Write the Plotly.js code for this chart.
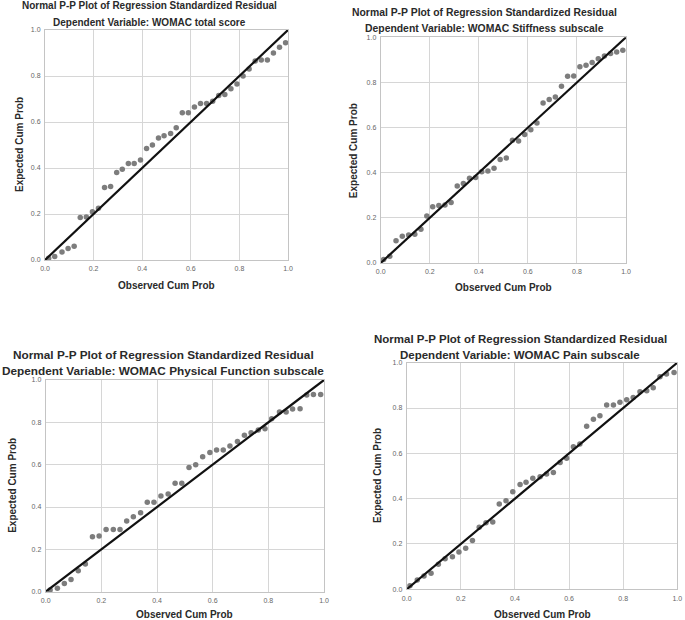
<!DOCTYPE html>
<html>
<head>
<meta charset="utf-8">
<script src="https://cdn.plot.ly/plotly-3.0.1.min.js"></script>
<style>html,body{margin:0;padding:0;background:#fff;}#chart{width:685px;height:620px;}</style>
</head>
<body>
<div id="chart"></div>
<script>
// ---- Data ----
const mainTitle = "Normal P-P Plot of Regression Standardized Residual";
const depVars = [
  "Dependent Variable: WOMAC total score",
  "Dependent Variable: WOMAC Stiffness subscale",
  "Dependent Variable: WOMAC Physical Function subscale",
  "Dependent Variable: WOMAC Pain subscale"
];
const xAxisLabel = "Observed Cum Prob";
const yAxisLabel = "Expected Cum Prob";
const tickValues = [0, 0.2, 0.4, 0.6, 0.8, 1.0];
const refLineX = [0, 1];
const refLineY = [0, 1];

const totalObs = [0.015,0.04,0.07,0.095,0.12,0.145,0.17,0.195,0.22,0.245,0.27,0.295,0.318,0.343,0.367,0.393,0.418,0.442,0.467,0.49,0.517,0.54,0.565,0.59,0.615,0.64,0.665,0.69,0.715,0.74,0.765,0.79,0.815,0.84,0.865,0.89,0.915,0.94,0.965,0.99];
const totalExp = [0.008,0.015,0.035,0.05,0.06,0.185,0.187,0.21,0.225,0.315,0.32,0.38,0.395,0.42,0.42,0.435,0.485,0.50,0.53,0.54,0.55,0.575,0.64,0.64,0.665,0.68,0.68,0.69,0.715,0.72,0.745,0.765,0.80,0.83,0.865,0.87,0.87,0.90,0.925,0.945];

const stiffObs = [0.012,0.037,0.0625,0.088,0.114,0.139,0.164,0.188,0.212,0.237,0.262,0.287,0.312,0.337,0.362,0.387,0.412,0.437,0.462,0.487,0.512,0.537,0.562,0.587,0.612,0.637,0.662,0.687,0.712,0.737,0.762,0.787,0.812,0.837,0.862,0.887,0.912,0.937,0.962,0.987];
const stiffExp = [0.015,0.03,0.099,0.119,0.124,0.127,0.149,0.208,0.249,0.255,0.257,0.268,0.341,0.352,0.375,0.379,0.404,0.408,0.42,0.459,0.465,0.544,0.541,0.569,0.59,0.62,0.709,0.724,0.736,0.783,0.827,0.829,0.869,0.876,0.888,0.905,0.917,0.928,0.935,0.943];

const physObs = [0.016,0.042,0.067,0.091,0.117,0.1425,0.168,0.192,0.217,0.243,0.267,0.291,0.315,0.341,0.365,0.389,0.414,0.44,0.465,0.489,0.515,0.539,0.564,0.59,0.614,0.638,0.662,0.689,0.714,0.738,0.764,0.788,0.812,0.84,0.864,0.887,0.914,0.938,0.962,0.988];
const physExp = [0.008,0.016,0.039,0.058,0.099,0.131,0.26,0.263,0.294,0.294,0.294,0.334,0.354,0.373,0.422,0.422,0.452,0.461,0.512,0.512,0.587,0.60,0.638,0.657,0.669,0.669,0.688,0.709,0.739,0.751,0.764,0.77,0.817,0.849,0.849,0.863,0.864,0.929,0.932,0.932];

const painObs = [0.012,0.039,0.064,0.09,0.117,0.142,0.169,0.193,0.218,0.243,0.268,0.293,0.318,0.342,0.367,0.392,0.419,0.441,0.466,0.493,0.517,0.542,0.567,0.591,0.616,0.64,0.665,0.69,0.714,0.739,0.764,0.788,0.813,0.837,0.862,0.887,0.911,0.936,0.96,0.988];
const painExp = [0.016,0.041,0.059,0.071,0.11,0.135,0.144,0.165,0.181,0.215,0.274,0.294,0.297,0.376,0.391,0.431,0.463,0.472,0.49,0.497,0.509,0.515,0.56,0.578,0.629,0.641,0.72,0.75,0.766,0.813,0.813,0.826,0.836,0.846,0.872,0.876,0.89,0.938,0.95,0.957];

const panelObs = [totalObs, stiffObs, physObs, painObs];
const panelExp = [totalExp, stiffExp, physExp, painExp];

// ---- Layout geometry (pixels in the 685x620 canvas) ----
const W = 685, H = 620;
const boxes = [
  {l:45,    r:288,   t:30,    b:260,   tc:149,   t1:6,   t2:22.5, xt:285, yt:19,  tsz:10.0},
  {l:380.7, r:626,   t:37.3,  b:263,   tc:484.5, t1:12.5,t2:28.5, xt:287, yt:353, tsz:10.4},
  {l:45.7,  r:324,   t:380,   b:591.7, tc:163,   t1:355, t2:370.5,xt:614, yt:13,  tsz:11.8},
  {l:406.7, r:677.3, t:362.7, b:589.3, tc:520,   t1:339, t2:354.5,xt:614, yt:377, tsz:11.5}
];

const FONT = "Liberation Sans, Arial, Helvetica, sans-serif";
const traces = [];
const layout = {
  width: W, height: H,
  margin: {l:0, r:0, t:0, b:0},
  paper_bgcolor: "#ffffff",
  plot_bgcolor: "#ffffff",
  showlegend: false,
  font: {family: FONT, color: "#333"},
  annotations: []
};

boxes.forEach((bx, i) => {
  const n = i === 0 ? "" : String(i + 1);
  const xa = "x" + n, ya = "y" + n;
  traces.push({
    type: "scatter", mode: "markers",
    x: panelObs[i], y: panelExp[i],
    xaxis: xa, yaxis: ya,
    marker: {color: "#7d7d7d", size: 5.5},
    cliponaxis: false,
    hoverinfo: "x+y"
  });
  traces.push({
    type: "scatter", mode: "lines",
    x: refLineX, y: refLineY,
    xaxis: xa, yaxis: ya,
    line: {color: "#111", width: 2.2},
    hoverinfo: "skip"
  });
  const axCommon = {
    range: [0, 1],
    tickvals: tickValues,
    tickformat: ".1f",
    tickfont: {family: FONT, size: 7, color: "#666"},
    showgrid: true, gridcolor: "#d6d6d6", gridwidth: 1,
    zeroline: false,
    showline: true, linecolor: "#c4c4c4", linewidth: 1, mirror: true,
    ticks: "outside", ticklen: 2, tickcolor: "rgba(0,0,0,0)",
    fixedrange: true
  };
  layout["xaxis" + n] = Object.assign({}, axCommon, {
    domain: [bx.l / W, bx.r / W],
    anchor: ya
  });
  layout["yaxis" + n] = Object.assign({}, axCommon, {
    domain: [1 - bx.b / H, 1 - bx.t / H],
    anchor: xa
  });
  const cx = (bx.l + bx.r) / 2 / W;
  const tcx = bx.tc / W;
  layout.annotations.push({
    xref: "paper", yref: "paper", x: tcx, y: 1 - bx.t1 / H,
    xanchor: "center", yanchor: "middle", showarrow: false,
    text: "<b>" + mainTitle + "</b>",
    font: {family: FONT, size: bx.tsz, color: "#2a2a2a"}
  });
  layout.annotations.push({
    xref: "paper", yref: "paper", x: tcx, y: 1 - bx.t2 / H,
    xanchor: "center", yanchor: "middle", showarrow: false,
    text: "<b>" + depVars[i] + "</b>",
    font: {family: FONT, size: bx.tsz, color: "#2a2a2a"}
  });
  layout.annotations.push({
    xref: "paper", yref: "paper", x: cx, y: 1 - bx.xt / H,
    xanchor: "center", yanchor: "middle", showarrow: false,
    text: "<b>" + xAxisLabel + "</b>",
    font: {family: FONT, size: 10, color: "#2a2a2a"}
  });
  layout.annotations.push({
    xref: "paper", yref: "paper", x: bx.yt / W, y: 1 - (bx.t + bx.b) / 2 / H,
    xanchor: "center", yanchor: "middle", showarrow: false, textangle: -90,
    text: "<b>" + yAxisLabel + "</b>",
    font: {family: FONT, size: 10, color: "#2a2a2a"}
  });
});

Plotly.newPlot("chart", traces, layout, {staticPlot: true, displayModeBar: false});
</script>
</body>
</html>
